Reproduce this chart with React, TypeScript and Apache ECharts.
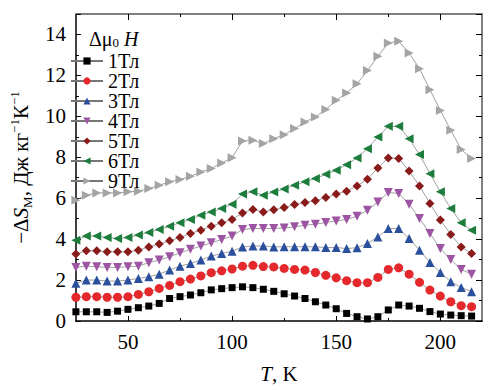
import React, { useEffect, useRef } from 'react';
import * as echarts from 'echarts';

const temperatures = [25, 30, 35, 40, 45, 50, 55, 60, 65, 70, 75, 80, 85, 90, 95, 100, 105, 110, 115, 120, 125, 130, 135, 140, 145, 150, 155, 160, 165, 170, 175, 180, 185, 190, 195, 200, 205, 210, 215];

const field1 = [0.45, 0.45, 0.45, 0.42, 0.48, 0.57, 0.65, 0.73, 0.86, 1.1, 1.19, 1.27, 1.38, 1.52, 1.58, 1.63, 1.67, 1.63, 1.55, 1.45, 1.33, 1.22, 1.1, 0.94, 0.78, 0.6, 0.37, 0.21, 0.1, 0.21, 0.54, 0.78, 0.73, 0.62, 0.46, 0.34, 0.29, 0.26, 0.24];
const field2 = [1.16, 1.19, 1.19, 1.16, 1.16, 1.19, 1.3, 1.43, 1.59, 1.74, 1.92, 2.05, 2.2, 2.36, 2.45, 2.54, 2.68, 2.72, 2.66, 2.64, 2.57, 2.52, 2.49, 2.37, 2.23, 2.11, 1.97, 1.87, 1.87, 2.13, 2.52, 2.6, 2.29, 1.89, 1.51, 1.22, 0.94, 0.75, 0.7];
const field3 = [1.84, 2.0, 2.0, 1.95, 1.95, 2.0, 2.08, 2.16, 2.29, 2.49, 2.68, 2.81, 2.98, 3.17, 3.3, 3.41, 3.62, 3.66, 3.67, 3.62, 3.63, 3.63, 3.63, 3.63, 3.59, 3.59, 3.54, 3.58, 3.79, 4.11, 4.52, 4.52, 4.03, 3.46, 2.86, 2.37, 1.92, 1.64, 1.43];
const field4 = [2.62, 2.68, 2.65, 2.62, 2.62, 2.65, 2.68, 2.85, 2.98, 3.14, 3.33, 3.5, 3.66, 3.82, 3.98, 4.15, 4.47, 4.52, 4.52, 4.52, 4.55, 4.6, 4.68, 4.73, 4.81, 4.89, 4.96, 5.12, 5.41, 5.82, 6.28, 6.23, 5.71, 5.01, 4.28, 3.54, 3.01, 2.52, 2.29];
const field5 = [3.27, 3.43, 3.43, 3.38, 3.38, 3.38, 3.46, 3.62, 3.76, 3.92, 4.08, 4.28, 4.44, 4.63, 4.8, 4.96, 5.28, 5.45, 5.33, 5.43, 5.54, 5.69, 5.79, 5.87, 6.03, 6.2, 6.34, 6.6, 6.93, 7.48, 7.97, 7.94, 7.33, 6.6, 5.74, 4.93, 4.23, 3.62, 3.3];
const field6 = [3.95, 4.15, 4.15, 4.08, 4.03, 4.08, 4.2, 4.33, 4.47, 4.63, 4.8, 4.96, 5.17, 5.33, 5.5, 5.71, 6.2, 6.31, 6.15, 6.3, 6.45, 6.63, 6.8, 6.96, 7.17, 7.37, 7.64, 7.97, 8.42, 8.99, 9.51, 9.51, 8.91, 8.13, 7.2, 6.31, 5.5, 4.8, 4.44];
const field9 = [5.9, 6.15, 6.26, 6.26, 6.26, 6.31, 6.34, 6.47, 6.63, 6.8, 6.91, 7.07, 7.28, 7.45, 7.72, 7.98, 8.8, 8.83, 8.67, 8.91, 9.1, 9.4, 9.72, 9.97, 10.33, 10.78, 11.14, 11.59, 12.24, 12.93, 13.58, 13.67, 13.09, 12.33, 11.3, 10.29, 9.32, 8.38, 7.94];

const seriesNames = ['1Тл', '2Тл', '3Тл', '4Тл', '5Тл', '6Тл', '9Тл'];
const seriesValues = [field1, field2, field3, field4, field5, field6, field9];
const seriesColors = ['#000000', '#e5282c', '#2a4f9d', '#9c54a3', '#8a1b1b', '#1d7d3d', '#a4a4a4'];
const seriesSymbols = ['rect', 'circle', 'triangle', 'triangle', 'diamond', 'triangle', 'triangle'];
const seriesRotate = [0, 0, 0, 180, 0, 90, -90];
const seriesSizes = [7, 9, 9, 9, 9, 9, 9];

const xMajorTicks = [50, 100, 150, 200];
const xMinorTicks = [75, 125, 175];

const FONT = 'Liberation Serif';

export default function App() {
  const ref = useRef<HTMLDivElement>(null);
  useEffect(() => {
    if (!ref.current) return;
    const chart = echarts.init(ref.current, null, { renderer: 'svg' });
    const grid = { left: 63, right: 13, top: 14, bottom: 69 };
    const baseX = { type: 'value', min: 25, max: 220, splitLine: { show: false } };
    const option: any = {
      animation: false,
      backgroundColor: '#ffffff',
      grid,
      title: {
        text: '{a|Δμ}{b|0}{a| }{c|H}',
        left: 84,
        top: 22,
        textStyle: {
          fontWeight: 'normal',
          fontFamily: FONT,
          rich: {
            a: { fontFamily: FONT, fontSize: 20, fontWeight: 'normal', color: '#000', verticalAlign: 'bottom', lineHeight: 22 },
            b: { fontFamily: FONT, fontSize: 13, fontWeight: 'normal', color: '#000', verticalAlign: 'bottom', lineHeight: 18 },
            c: { fontFamily: FONT, fontSize: 20, fontWeight: 'normal', fontStyle: 'italic', color: '#000', verticalAlign: 'bottom', lineHeight: 22 },
          },
        },
      },
      legend: {
        orient: 'vertical',
        left: 70,
        top: 51,
        padding: 0,
        itemWidth: 32,
        itemHeight: 9,
        itemGap: 0,
        data: seriesNames,
        textStyle: { fontFamily: FONT, fontSize: 20, color: '#000', lineHeight: 19 },
      },
      xAxis: [
        {
          ...baseX,
          position: 'bottom',
          name: '{i|T}{n|, K}',
          nameLocation: 'middle',
          nameGap: 42,
          nameTextStyle: {
            fontFamily: FONT,
            rich: {
              i: { fontFamily: FONT, fontSize: 21, fontStyle: 'italic', color: '#000' },
              n: { fontFamily: FONT, fontSize: 21, color: '#000' },
            },
          },
          axisLine: { show: true, lineStyle: { color: '#000', width: 1.5 } },
          axisTick: { show: true, inside: true, length: 5, customValues: xMajorTicks, lineStyle: { color: '#000', width: 1 } },
          axisLabel: { show: true, customValues: xMajorTicks, fontFamily: FONT, fontSize: 21, color: '#000', margin: 10 },
        },
        {
          ...baseX,
          position: 'bottom',
          axisLine: { show: false },
          axisTick: { show: true, inside: true, length: 3, customValues: xMinorTicks, lineStyle: { color: '#000', width: 1 } },
          axisLabel: { show: false },
        },
        {
          ...baseX,
          position: 'top',
          axisLine: { show: true, lineStyle: { color: '#808080', width: 2 } },
          axisTick: { show: true, inside: true, length: 6, customValues: xMajorTicks, lineStyle: { color: '#000', width: 1 } },
          axisLabel: { show: false },
        },
        {
          ...baseX,
          position: 'top',
          axisLine: { show: false },
          axisTick: { show: true, inside: true, length: 3, customValues: xMinorTicks, lineStyle: { color: '#000', width: 1 } },
          axisLabel: { show: false },
        },
      ],
      yAxis: [
        {
          type: 'value',
          min: 0,
          max: 15,
          interval: 2,
          position: 'left',
          splitLine: { show: false },
          name: '{n|−Δ}{i|S}{s|M}{n|, Дж кг}{p|−1}{n|К}{p|−1}',
          nameLocation: 'middle',
          nameGap: 40,
          nameRotate: 90,
          nameTextStyle: {
            fontFamily: FONT,
            rich: {
              n: { fontFamily: FONT, fontSize: 21, color: '#000', lineHeight: 26, verticalAlign: 'middle' },
              i: { fontFamily: FONT, fontSize: 21, fontStyle: 'italic', color: '#000', lineHeight: 26, verticalAlign: 'middle' },
              s: { fontFamily: FONT, fontSize: 13, color: '#000', lineHeight: 13, verticalAlign: 'bottom' },
              p: { fontFamily: FONT, fontSize: 13, color: '#000', lineHeight: 13, verticalAlign: 'top' },
            },
          },
          axisLine: { show: true, lineStyle: { color: '#000', width: 1.5 } },
          axisTick: { show: true, inside: true, length: 5, lineStyle: { color: '#000', width: 1 } },
          minorTick: { show: true, splitNumber: 2, length: 3, lineStyle: { color: '#000', width: 1 } },
          axisLabel: { fontFamily: FONT, fontSize: 21, color: '#000', margin: 10, showMaxLabel: false },
        },
        {
          type: 'value',
          min: 0,
          max: 15,
          interval: 2,
          position: 'right',
          splitLine: { show: false },
          axisLine: { show: true, lineStyle: { color: '#808080', width: 2 } },
          axisTick: { show: true, inside: true, length: 6, lineStyle: { color: '#000', width: 1 } },
          minorTick: { show: true, splitNumber: 2, length: 3, lineStyle: { color: '#000', width: 1 } },
          axisLabel: { show: false },
        },
      ],
      series: seriesNames.map((name, k) => ({
        name,
        type: 'line',
        xAxisIndex: 0,
        yAxisIndex: 0,
        data: temperatures.map((t, i) => [t, seriesValues[k][i]]),
        symbol: seriesSymbols[k],
        symbolSize: seriesSizes[k],
        symbolRotate: seriesRotate[k],
        showSymbol: true,
        itemStyle: { color: seriesColors[k] },
        lineStyle: { color: '#777777', width: 0.7 },
        emphasis: { disabled: true },
        z: 2 + k,
      })),
    };
    chart.setOption(option);
    return () => chart.dispose();
  }, []);
  return <div ref={ref} style={{ position: 'fixed', left: 0, top: 0, width: 495, height: 390, background: '#fff' }} />;
}
